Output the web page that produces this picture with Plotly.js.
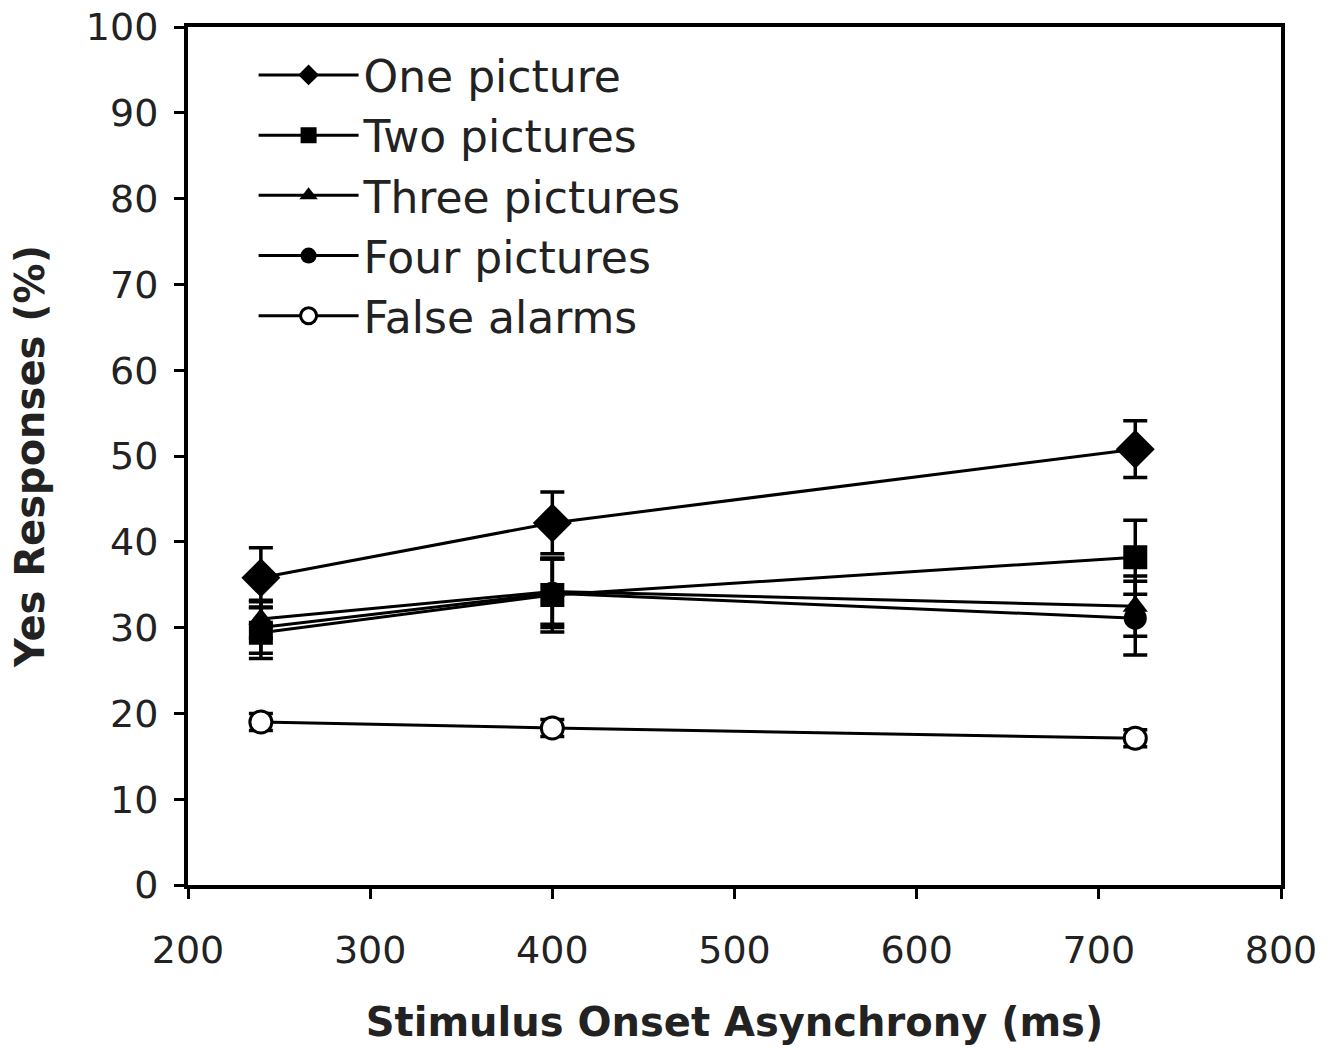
<!DOCTYPE html>
<html>
<head>
<meta charset="utf-8">
<script src="https://cdn.plot.ly/plotly-3.0.1.min.js"></script>
<style>html,body{margin:0;padding:0;background:#fff;}#chart{width:1339px;height:1048px;}</style>
</head>
<body>
<div id="chart"></div>
<script>
const soa = [240, 400, 720];
const seriesNames = ["One picture", "Two pictures", "Three pictures", "Four pictures", "False alarms"];
const onePicture = [35.8, 42.2, 50.8];
const onePictureErr = [3.5, 3.6, 3.3];
const twoPictures = [29.4, 33.8, 38.2];
const twoPicturesErr = [3.0, 4.3, 4.3];
const threePictures = [31.0, 34.2, 32.5];
const threePicturesErr = [2.2, 3.8, 3.5];
const fourPictures = [30.0, 34.0, 31.1];
const fourPicturesErr = [3.0, 4.0, 4.3];
const falseAlarms = [19.0, 18.3, 17.1];
const falseAlarmsErr = [1.0, 1.0, 1.0];
const yTicks = [0, 10, 20, 30, 40, 50, 60, 70, 80, 90, 100];
const xTicks = [200, 300, 400, 500, 600, 700, 800];

const symbols = ["diamond", "square", "triangle-up", "circle", "circle"];
const sizes = [30, 24, 22, 23, 22];
const ys = [onePicture, twoPictures, threePictures, fourPictures, falseAlarms];
const errs = [onePictureErr, twoPicturesErr, threePicturesErr, fourPicturesErr, falseAlarmsErr];

const traces = seriesNames.map((name, i) => ({
  type: "scatter",
  mode: "lines+markers",
  name: name,
  legendgroup: "g" + i,
  x: soa,
  y: ys[i],
  error_y: {type: "data", array: errs[i], visible: true, color: "#000", thickness: 3.5, width: 12},
  line: {color: "#000", width: 3},
  marker: {
    symbol: symbols[i],
    size: sizes[i],
    color: i === 4 ? "#fff" : "#000",
    line: {color: "#000", width: i === 4 ? 3 : 0}
  }
}));

const layout = {
  width: 1339,
  height: 1048,
  paper_bgcolor: "#fff",
  plot_bgcolor: "#fff",
  margin: {l: 188, r: 58, t: 27, b: 163},
  font: {family: "DejaVu Sans, Verdana, sans-serif", color: "#222"},
  showlegend: true,
  legend: {
    x: 0.06, y: 0.985, xanchor: "left", yanchor: "top",
    font: {size: 44, color: "#222"},
    bgcolor: "rgba(0,0,0,0)",
    traceorder: "grouped",
    tracegroupgap: 0,
    itemwidth: 100
  },
  xaxis: {
    range: [200, 800],
    tickvals: xTicks,
    ticktext: xTicks.map(String),
    ticks: "outside",
    ticklen: 10,
    tickwidth: 3,
    tickcolor: "#000",
    showline: true,
    linecolor: "#000",
    linewidth: 4,
    mirror: true,
    showgrid: false,
    zeroline: false,
    tickfont: {size: 38, color: "#222"},
    ticklabelstandoff: 18,
    title: {text: "Stimulus Onset Asynchrony (ms)", font: {size: 40, color: "#222", weight: "bold"}, standoff: 38}
  },
  yaxis: {
    range: [0, 100],
    tickvals: yTicks,
    ticktext: yTicks.map(String),
    ticks: "outside",
    ticklen: 10,
    tickwidth: 3,
    tickcolor: "#000",
    showline: true,
    linecolor: "#000",
    linewidth: 4,
    mirror: true,
    showgrid: false,
    zeroline: false,
    tickfont: {size: 38, color: "#222"},
    ticklabelstandoff: 8,
    title: {text: "Yes Responses (%)", font: {size: 40, color: "#222", weight: "bold"}, standoff: 30}
  }
};

Plotly.newPlot("chart", traces, layout, {displayModeBar: false, staticPlot: true});
</script>
</body>
</html>
